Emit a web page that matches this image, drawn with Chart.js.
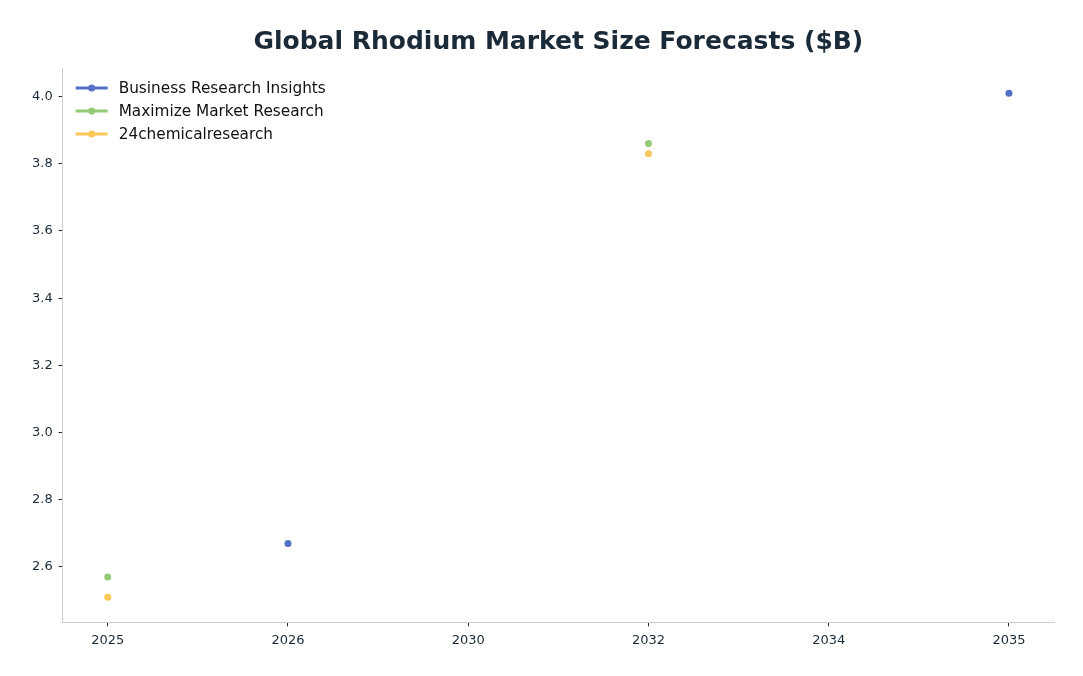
<!DOCTYPE html>
<html><head><meta charset="utf-8">
<script src="https://cdn.jsdelivr.net/npm/chart.js@4/dist/chart.umd.min.js"></script>
<style>html,body{margin:0;padding:0;background:#fff}#wrap{width:1083px;height:676px}</style>
</head><body><div id="wrap"><canvas id="c"></canvas></div>
<script>
const years = ['2025','2026','2030','2032','2034','2035'];
const seriesNames = ['Business Research Insights','Maximize Market Research','24chemicalresearch'];
const briValues = [null, 2.67, null, null, null, 4.01];
const mmrValues = [2.57, null, null, 3.86, null, null];
const chemValues = [2.51, null, null, 3.83, null, null];
const yTicks = [2.6, 2.8, 3.0, 3.2, 3.4, 3.6, 3.8, 4.0];
const colors = ['#5470c6','#91cc75','#fac858'];

const toPts = arr => arr.map((v,i)=>({x:i,y:v})).filter(p=>p.y!==null);
const allSeries = [briValues, mmrValues, chemValues];
const FONT = "'DejaVu Sans', sans-serif";
const TXT = '#1b2a38';

const legendPlugin = {
  id:'customLegend',
  afterDraw(chart){
    const ctx = chart.ctx;
    const a = chart.chartArea;
    ctx.save();
    chart.data.datasets.forEach((ds,i)=>{
      const y = a.top + 20 + i*23;
      const x0 = a.left + 13;
      ctx.strokeStyle = ds.borderColor; ctx.lineWidth = 3;
      ctx.beginPath(); ctx.moveTo(x0,y); ctx.lineTo(x0+32,y); ctx.stroke();
      ctx.fillStyle = ds.backgroundColor;
      ctx.beginPath(); ctx.arc(x0+16,y,3.5,0,Math.PI*2); ctx.fill();
      ctx.fillStyle = '#111'; ctx.font = "15.3px "+FONT; ctx.textBaseline='middle'; ctx.textAlign='left';
      ctx.fillText(ds.label, x0+43, y+1);
    });
    ctx.restore();
  }
};

new Chart(document.getElementById('c'), {
  type:'line',
  data:{ datasets: seriesNames.map((n,i)=>({
    label:n, data: toPts(allSeries[i]), borderColor:colors[i], backgroundColor:colors[i],
    showLine:false, pointRadius:3.5, pointHoverRadius:3.5, borderWidth:0
  }))},
  options:{
    responsive:true, maintainAspectRatio:false, animation:false,
    layout:{padding:{left:26,right:29,top:27,bottom:22}},
    plugins:{
      legend:{display:false}, tooltip:{enabled:false},
      title:{display:true, fullSize:false, text:'Global Rhodium Market Size Forecasts ($B)', color:TXT,
        font:{family:FONT, size:25, weight:'bold'}, padding:{top:0,bottom:11}}
    },
    scales:{
      x:{type:'linear', min:-0.25, max:5.25,
        afterBuildTicks(s){ s.ticks = years.map((_,i)=>({value:i})); },
        ticks:{callback:(v)=>years[v], color:TXT, font:{family:FONT,size:13}, padding:6, autoSkip:false, maxRotation:0},
        grid:{display:true, drawOnChartArea:false, drawTicks:true, tickLength:4, color:TXT},
        border:{display:true, color:'#cccccc', width:1}
      },
      y:{min:2.435, max:4.085,
        afterBuildTicks(s){ s.ticks = yTicks.map(v=>({value:v})); },
        ticks:{callback:(v)=>v.toFixed(1), color:TXT, font:{family:FONT,size:13}, padding:6},
        grid:{display:true, drawOnChartArea:false, drawTicks:true, tickLength:4, color:TXT},
        border:{display:true, color:'#cccccc', width:1}
      }
    }
  },
  plugins:[legendPlugin]
});
</script></body></html>
